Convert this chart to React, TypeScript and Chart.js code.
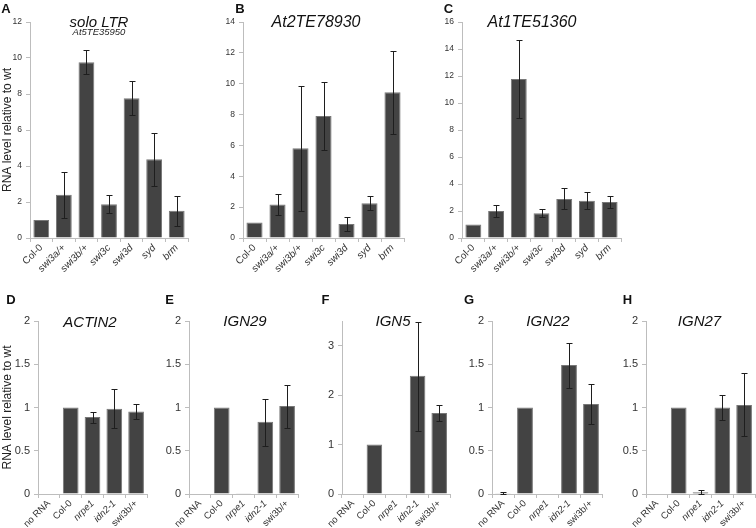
import React, { useEffect, useRef } from 'react';
import { Chart, registerables } from 'chart.js';

Chart.register(...registerables);

const FONT = '"Liberation Sans", Arial, Helvetica, sans-serif';
const AXIS = '#bdbdbd';
const BAR_FILL = '#434343';
const BAR_EDGE = '#777777';
const ERR = '#1e1e1e';

// ---------- data ----------
const topCategories = ['Col-0', 'swi3a/+', 'swi3b/+', 'swi3c', 'swi3d', 'syd', 'brm'];
const bottomCategories = ['no RNA', 'Col-0', 'nrpe1', 'idn2-1', 'swi3b/+'];

// A: solo LTR (At5TE35950)
const soloLtrValues = [1.0, 2.4, 9.77, 1.87, 7.76, 4.37, 1.51];
const soloLtrLow = [null, 1.1, 9.09, 1.37, 6.81, 2.91, 0.69];
const soloLtrHigh = [null, 3.68, 10.43, 2.37, 8.72, 5.85, 2.32];

// B: At2TE78930
const at2Values = [1.0, 2.17, 5.81, 7.9, 0.91, 2.26, 9.44];
const at2Low = [null, 1.52, 1.74, 5.7, 0.43, 1.82, 6.76];
const at2High = [null, 2.84, 9.88, 10.1, 1.37, 2.7, 12.13];

// C: At1TE51360
const at1Values = [1.0, 2.0, 11.78, 1.83, 2.89, 2.76, 2.67];
const at1Low = [null, 1.55, 8.87, 1.53, 2.12, 2.12, 2.2];
const at1High = [null, 2.42, 14.7, 2.12, 3.68, 3.41, 3.13];

// D: ACTIN2
const actin2Values = [0, 1.0, 0.89, 0.985, 0.953];
const actin2Low = [null, null, 0.818, 0.76, 0.868];
const actin2High = [null, null, 0.953, 1.209, 1.035];

// E: IGN29
const ign29Values = [0.005, 1.0, 0.01, 0.835, 1.017];
const ign29Low = [null, null, null, 0.56, 0.768];
const ign29High = [null, null, null, 1.095, 1.265];

// F: IGN5
const ign5Values = [0, 1.0, 0, 2.39, 1.64];
const ign5Low = [null, null, null, 1.28, 1.47];
const ign5High = [null, null, null, 3.48, 1.81];

// G: IGN22
const ign22Values = [0.01, 1.0, 0.005, 1.49, 1.04];
const ign22Low = [0.003, null, null, 1.23, 0.815];
const ign22High = [0.02, null, null, 1.74, 1.27];

// H: IGN27
const ign27Values = [0, 1.0, 0.02, 1.0, 1.03];
const ign27Low = [null, null, 0.0, 0.855, 0.665];
const ign27High = [null, null, 0.05, 1.15, 1.395];

const yAxisTitle = 'RNA level relative to wt';

type TextItem = { text: string; x: number; y: number; font: string; color?: string };

type PanelProps = {
  left: number;
  top: number;
  width: number;
  height: number;
  yAxisWidth: number;
  padTop: number;
  padRight: number;
  xAxisHeight: number;
  categories: string[];
  values: number[];
  low: (number | null)[];
  high: (number | null)[];
  yMax: number;
  yStep: number;
  hideTop?: boolean;
  barPct: number;
  yTickSize: number;
  xTickSize: number;
  italicOf: (label: string) => boolean;
  yTitle?: string;
  texts: TextItem[];
};

function Panel(p: PanelProps) {
  const ref = useRef<HTMLCanvasElement | null>(null);
  useEffect(() => {
    const canvas = ref.current;
    if (!canvas) return;
    const errorBars = {
      id: 'errorBars',
      afterDatasetsDraw(chart: any) {
        const ctx = chart.ctx;
        const meta = chart.getDatasetMeta(0);
        const ys = chart.scales.y;
        ctx.save();
        ctx.strokeStyle = ERR;
        ctx.lineWidth = 1;
        meta.data.forEach((bar: any, i: number) => {
          const lo = p.low[i];
          const hi = p.high[i];
          if (lo == null || hi == null) return;
          const x = Math.round(bar.x) + 0.5;
          const yl = Math.round(ys.getPixelForValue(lo)) + 0.5;
          const yh = Math.round(ys.getPixelForValue(hi)) + 0.5;
          ctx.beginPath();
          ctx.moveTo(x, yl);
          ctx.lineTo(x, yh);
          ctx.moveTo(x - 3, yh);
          ctx.lineTo(x + 3, yh);
          ctx.moveTo(x - 3, yl);
          ctx.lineTo(x + 3, yl);
          ctx.stroke();
        });
        ctx.restore();
      },
    };
    const panelText = {
      id: 'panelText',
      afterDraw(chart: any) {
        const ctx = chart.ctx;
        ctx.save();
        ctx.textAlign = 'center';
        ctx.textBaseline = 'alphabetic';
        p.texts.forEach((t) => {
          ctx.font = t.font;
          ctx.fillStyle = t.color || '#111';
          ctx.fillText(t.text, t.x - p.left, t.y - p.top);
        });
        ctx.restore();
      },
    };
    const chart = new Chart(canvas, {
      type: 'bar',
      data: {
        labels: p.categories,
        datasets: [
          {
            data: p.values,
            backgroundColor: BAR_FILL,
            borderColor: BAR_EDGE,
            borderWidth: 1,
            barPercentage: p.barPct,
            categoryPercentage: 1,
          },
        ],
      },
      options: {
        animation: false,
        responsive: false,
        maintainAspectRatio: false,
        layout: { padding: { top: p.padTop, right: p.padRight, left: 0, bottom: 0 } },
        plugins: {
          legend: { display: false },
          tooltip: { enabled: false },
          title: { display: false },
        },
        scales: {
          x: {
            grid: { offset: true, drawOnChartArea: false, drawTicks: true, tickLength: 4, color: AXIS },
            border: { color: AXIS, width: 1 },
            ticks: {
              minRotation: 45,
              maxRotation: 45,
              autoSkip: false,
              padding: 0,
              color: '#333',
              font: (ctx: any) => ({
                family: FONT,
                size: p.xTickSize,
                style: p.italicOf(p.categories[ctx.index]) ? 'italic' : 'normal',
              }),
            },
            afterFit: (s: any) => {
              s.height = p.xAxisHeight;
            },
          },
          y: {
            min: 0,
            max: p.yMax,
            grid: { drawOnChartArea: false, drawTicks: true, tickLength: 4, color: AXIS },
            border: { color: AXIS, width: 1 },
            ticks: {
              stepSize: p.yStep,
              color: '#333',
              padding: 4,
              font: { family: FONT, size: p.yTickSize },
              callback: (v: any) => String(Number(v)),
            },
            title: p.yTitle
              ? { display: true, text: p.yTitle, color: '#222', padding: 0, font: { family: FONT, size: 12 } }
              : { display: false },
            afterBuildTicks: (s: any) => {
              if (p.hideTop) {
                s.ticks = s.ticks.filter((t: any) => Math.abs(t.value - p.yMax) > 1e-9);
              }
            },
            afterFit: (s: any) => {
              s.width = p.yAxisWidth;
            },
          },
        },
      } as any,
      plugins: [errorBars, panelText],
    });
    return () => chart.destroy();
  }, []);
  return (
    <canvas
      ref={ref}
      width={p.width}
      height={p.height}
      style={{ position: 'absolute', left: p.left, top: p.top, width: p.width, height: p.height }}
    />
  );
}

const italicTop = (l: string) => l !== 'Col-0';
const italicBottom = (l: string) => l !== 'Col-0' && l !== 'no RNA' && l !== 'swi3b/+';

const LETTER = `bold 13px ${FONT}`;
const TITLE = `italic 15px ${FONT}`;
const TITLE16 = `italic 16px ${FONT}`;

export default function App() {
  const top = { top: 0, height: 290, padTop: 22, xAxisHeight: 52, yTickSize: 8.5, xTickSize: 10, barPct: 0.7 };
  const bot = { top: 290, height: 238, padTop: 31, xAxisHeight: 34, yTickSize: 11, xTickSize: 9.5, barPct: 0.72 };
  return (
    <div style={{ position: 'absolute', left: 0, top: 0, width: 756, height: 528, background: '#fff', overflow: 'hidden' }}>
      <Panel
        {...top}
        left={0}
        width={192}
        yAxisWidth={30}
        padRight={4}
        categories={topCategories}
        values={soloLtrValues}
        low={soloLtrLow}
        high={soloLtrHigh}
        yMax={12}
        yStep={2}
        italicOf={italicTop}
        yTitle={yAxisTitle}
        texts={[
          { text: 'A', x: 6, y: 13, font: LETTER },
          { text: 'solo LTR', x: 99, y: 26.5, font: TITLE },
          { text: 'At5TE35950', x: 99, y: 35, font: `italic 9.5px ${FONT}`, color: '#222' },
        ]}
      />
      <Panel
        {...top}
        left={219}
        width={189}
        yAxisWidth={24}
        padRight={4}
        categories={topCategories}
        values={at2Values}
        low={at2Low}
        high={at2High}
        yMax={14}
        yStep={2}
        italicOf={italicTop}
        texts={[
          { text: 'B', x: 240, y: 13, font: LETTER },
          { text: 'At2TE78930', x: 316, y: 27, font: TITLE16 },
        ]}
      />
      <Panel
        {...top}
        left={438}
        width={187}
        yAxisWidth={24}
        padRight={4}
        categories={topCategories}
        values={at1Values}
        low={at1Low}
        high={at1High}
        yMax={16}
        yStep={2}
        italicOf={italicTop}
        texts={[
          { text: 'C', x: 448.5, y: 13, font: LETTER },
          { text: 'At1TE51360', x: 532, y: 27, font: TITLE16 },
        ]}
      />
      <Panel
        {...bot}
        left={0}
        width={151}
        yAxisWidth={38}
        padRight={4}
        categories={bottomCategories}
        values={actin2Values}
        low={actin2Low}
        high={actin2High}
        yMax={2}
        yStep={0.5}
        italicOf={italicBottom}
        yTitle={yAxisTitle}
        texts={[
          { text: 'D', x: 11, y: 304, font: LETTER },
          { text: 'ACTIN2', x: 90, y: 326.7, font: TITLE },
        ]}
      />
      <Panel
        {...bot}
        left={159}
        width={143}
        yAxisWidth={30}
        padRight={4}
        categories={bottomCategories}
        values={ign29Values}
        low={ign29Low}
        high={ign29High}
        yMax={2}
        yStep={0.5}
        italicOf={italicBottom}
        texts={[
          { text: 'E', x: 169.5, y: 304, font: LETTER },
          { text: 'IGN29', x: 245, y: 326, font: TITLE },
        ]}
      />
      <Panel
        {...bot}
        left={312}
        width={142}
        yAxisWidth={30}
        padRight={4}
        categories={bottomCategories}
        values={ign5Values}
        low={ign5Low}
        high={ign5High}
        yMax={3.5}
        yStep={1}
        hideTop
        italicOf={italicBottom}
        texts={[
          { text: 'F', x: 325.5, y: 304, font: LETTER },
          { text: 'IGN5', x: 393, y: 326, font: TITLE },
        ]}
      />
      <Panel
        {...bot}
        left={462}
        width={144}
        yAxisWidth={30}
        padRight={4}
        categories={bottomCategories}
        values={ign22Values}
        low={ign22Low}
        high={ign22High}
        yMax={2}
        yStep={0.5}
        italicOf={italicBottom}
        texts={[
          { text: 'G', x: 469, y: 304, font: LETTER },
          { text: 'IGN22', x: 548, y: 326, font: TITLE },
        ]}
      />
      <Panel
        {...bot}
        left={616}
        width={140}
        yAxisWidth={30}
        padRight={1}
        categories={bottomCategories}
        values={ign27Values}
        low={ign27Low}
        high={ign27High}
        yMax={2}
        yStep={0.5}
        italicOf={italicBottom}
        texts={[
          { text: 'H', x: 627.5, y: 304, font: LETTER },
          { text: 'IGN27', x: 699.5, y: 326, font: TITLE },
        ]}
      />
    </div>
  );
}
